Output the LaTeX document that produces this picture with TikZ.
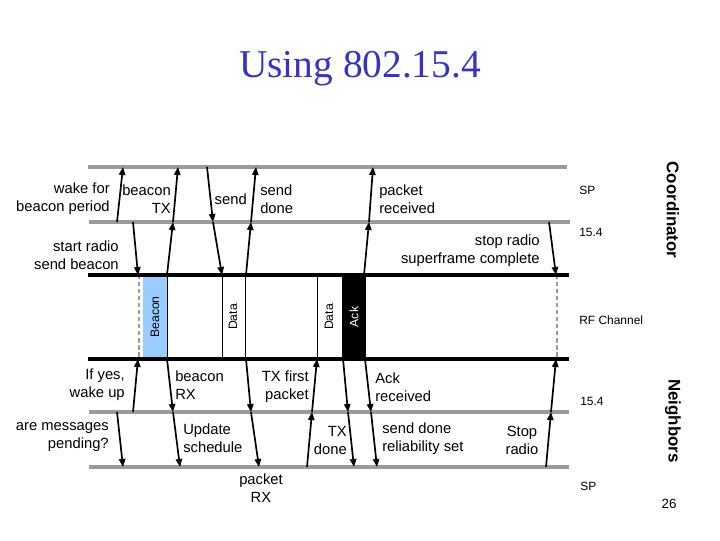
\documentclass[tikz,border=0pt]{standalone}
\usepackage{fontspec}
\setmainfont{Liberation Serif}
\setsansfont{Liberation Sans}
\usetikzlibrary{arrows.meta}
\definecolor{ttl}{RGB}{51,51,204}
\definecolor{lane}{RGB}{155,155,155}
\definecolor{bcn}{RGB}{153,204,255}

\begin{document}
\begin{tikzpicture}[
  x=0.025cm, y=-0.025cm,
  font=\sffamily\fontsize{10.5}{12.8}\selectfont,
  >={Triangle[length=2mm,width=1.6mm]},
  arr/.style={->, line width=1.2pt, black},
  soft/.style={line width=2.2pt, lane},
  hard/.style={line width=2.2pt, black},
  gap/.style={line width=1.4pt, lane, dash pattern=on 3pt off 2pt},
  lbl/.style={inner sep=0pt, align=left, anchor=west},
  rlbl/.style={inner sep=0pt, align=right, anchor=east},
  clbl/.style={inner sep=0pt, align=center},
  tag/.style={inner sep=0pt, anchor=west, font=\sffamily\fontsize{8.5}{10}\selectfont},
  side/.style={inner sep=0pt, rotate=-90, font=\sffamily\bfseries\fontsize{12}{14}\selectfont},
  slot/.style={inner sep=0pt, rotate=90, font=\sffamily\fontsize{8.7}{10}\selectfont},
]
\useasboundingbox (0,0) rectangle (720,540);

% ---- title ----
\node[text=ttl, font=\rmfamily\fontsize{28}{32}\selectfont] (T) at (360,69) {Using 802.15.4};

% ---- RF channel slots ----
\fill[bcn] (143,275) rectangle (167,359);
\fill[black] (342,275) rectangle (366,359);
\draw[line width=0.7pt] (167,275) -- (167,359);
\draw[line width=0.7pt] (222,275) -- (222,359);
\draw[line width=0.7pt] (245,275) -- (245,359);
\draw[line width=0.7pt] (317,275) -- (317,359);
\draw[gap] (139,275) -- (139,359);
\draw[gap] (557,275) -- (557,359);
\node[slot] (sBcn) at (155,317) {Beacon};
\node[slot] (sDat1) at (233,317) {Data};
\node[slot] (sDat2) at (329,317) {Data};
\node[slot, text=white] (sAck) at (354,317) {Ack};

% ---- layers ----
\draw[soft] (88,167) -- (567,167);
\draw[soft] (89,222) -- (570,222);
\draw[hard] (88,275) -- (569,275);
\draw[hard] (88,359) -- (569,359);
\draw[soft] (89,412) -- (569,412);
\draw[soft] (89,467) -- (569,467);

% ---- arrow end points ----
\foreach \n/\x/\y in {
  wk0/117/222, wk1/123/167,
  sr0/133/222, sr1/138/275,
  tx0/167/275, tx1/173/222, tx2/178/167,
  sd0/207/167, sd1/213/222, sd2/222/275,
  dn0/246/275, dn1/251/222, dn2/256/167,
  pr0/364/275, pr1/369/222, pr2/373/167,
  st0/549/222, st1/556/275,
  wu0/133/412, wu1/138/359,
  mp0/117/412, mp1/123/467,
  rx0/167/359, rx1/173/412, rx2/180/467,
  pk0/246/359, pk1/251/412, pk2/259/467,
  fp0/307/467, fp1/312/412, fp2/317/359,
  td0/343/359, td1/348/412, td2/354/467,
  ak0/365/359, ak1/371/412, ak2/377/467,
  sp0/546/467, sp1/551/412, sp2/556/359}
  \coordinate (\n) at (\x,\y);

% ---- arrows ----
\foreach \a/\b in {wk0/wk1, sr0/sr1, tx0/tx1, tx1/tx2, sd0/sd1, sd1/sd2,
  dn0/dn1, dn1/dn2, pr0/pr1, pr1/pr2, st0/st1,
  wu0/wu1, mp0/mp1, rx0/rx1, rx1/rx2, pk0/pk1, pk1/pk2, fp0/fp1, fp1/fp2,
  td0/td1, td1/td2, ak0/ak1, ak1/ak2, sp0/sp1, sp1/sp2}
  \draw[arr] (\a) -- (\b);

% ---- coordinator labels ----
\node[rlbl] (lWake) at (110,199) {wake for\\beacon period};
\node[rlbl] (lBtx) at (171,199) {beacon\\TX};
\node[rlbl] (lSend) at (247,199) {send};
\node[lbl] (lDone) at (260,199) {send\\done};
\node[lbl] (lRecv) at (379,199) {packet\\received};
\node[rlbl] (lStart) at (119,255) {start radio\\send beacon};
\node[rlbl] (lStop) at (540,251) {stop radio\\superframe complete};

% ---- neighbor labels ----
\node[rlbl] (lYes) at (125,385) {If yes,\\wake up};
\node[rlbl] (lPend) at (109,437) {are messages\\pending?};
\node[lbl] (lBrx) at (175,385) {beacon\\RX};
\node[lbl] (lUpd) at (183,438) {Update\\schedule};
\node[rlbl] (lFirst) at (309,387) {TX first\\packet};
\node[rlbl] (lTxd) at (347,440) {TX\\done};
\node[clbl] (lPrx) at (261,488) {packet\\RX};
\node[lbl] (lAck) at (375,387) {Ack\\received};
\node[lbl] (lRel) at (382,439) {send done\\reliability set};
\node[clbl] (lSrad) at (522,440) {Stop\\radio};

% ---- layer tags ----
\node[tag] (tSP1) at (579,190) {SP};
\node[tag] (t154a) at (579,232) {15.4};
\node[tag] (tRF) at (579,320) {RF Channel};
\node[tag] (t154b) at (580,401) {15.4};
\node[tag] (tSP2) at (580,486) {SP};
\node[side] (nCoord) at (673,210) {Coordinator};
\node[side] (nNeigh) at (673,421) {Neighbors};
\node[font=\sffamily\fontsize{9.5}{11}\selectfont] (pg) at (669,504) {26};

\end{tikzpicture}
\end{document}
